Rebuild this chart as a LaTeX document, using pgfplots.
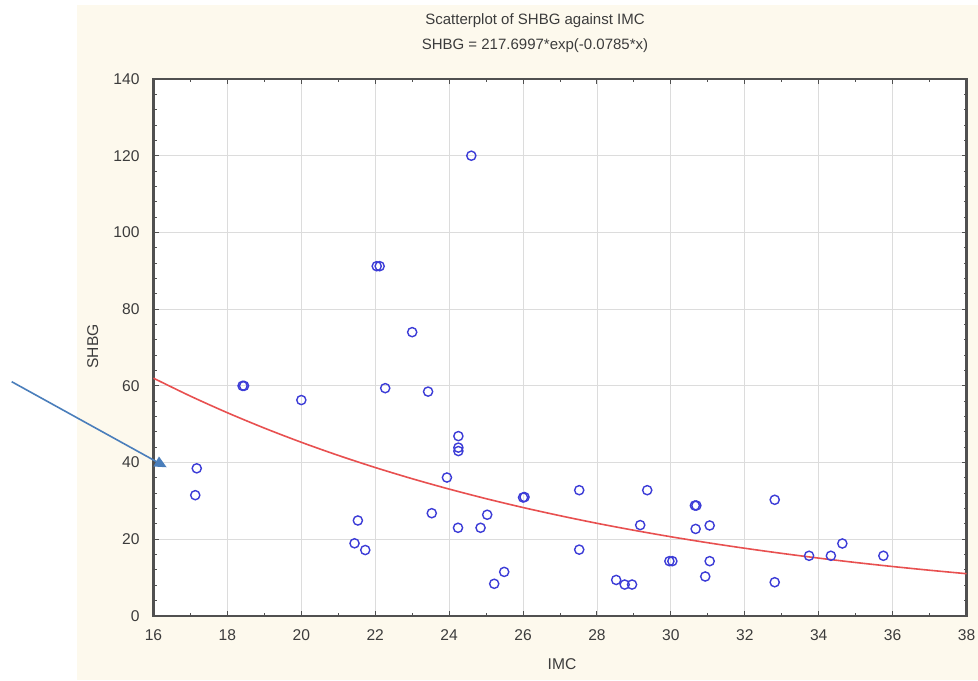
\documentclass[border=0pt]{standalone}
\usepackage{pgfplots}
\pgfplotsset{compat=1.18}
\usepackage{fontspec}
\setmainfont{Liberation Sans}
\usetikzlibrary{arrows.meta}
\definecolor{panel}{RGB}{253,249,237}
\definecolor{ptblue}{RGB}{60,60,215}
\definecolor{fitred}{RGB}{232,80,80}
\definecolor{arrowblue}{RGB}{74,126,187}
\definecolor{gridgray}{RGB}{220,220,220}
\definecolor{axgray}{RGB}{80,80,80}
\definecolor{txtgray}{RGB}{60,60,60}
\begin{document}
\begin{tikzpicture}
\fill[white] (0,0) rectangle (489pt,340pt);
\useasboundingbox (0,0) rectangle (489pt,340pt);
\fill[panel] (38.5pt,0) rectangle (489pt,337.5pt);
\begin{axis}[
  scale only axis,
  width=406.5pt, height=268.5pt,
  at={(76.75pt,32pt)}, anchor=south west,
  xmin=16, xmax=38, ymin=0, ymax=140,
  xtick={16,18,...,38}, ytick={0,20,...,140},
  minor x tick num=1, minor y tick num=4,
  tick align=inside,
  major tick length=2.5pt, minor tick length=1.5pt,
  tick style={axgray, line width=0.5pt},
  axis line style={axgray, line width=1.1pt},
  grid=major,
  major grid style={gridgray, line width=0.4pt},
  axis background/.style={fill=white},
  /pgf/number format/assume math mode=true,
  ticklabel style={font=\fontsize{7.8}{9}\selectfont, text=txtgray},
  xticklabel style={yshift=-3.5pt},
  yticklabel style={xshift=-3.5pt},
  clip=false,
]
\addplot[fitred, line width=0.8pt, smooth] coordinates {
(16,62.00) (17,57.32) (18,52.99) (19,48.99) (20,45.29) (21,41.87)
(22,38.71) (23,35.79) (24,33.09) (25,30.59) (26,28.28) (27,26.15)
(28,24.17) (29,22.35) (30,20.66) (31,19.10) (32,17.66) (33,16.33)
(34,15.09) (35,13.95) (36,12.90) (37,11.93) (38,11.03)
};
\addplot[only marks, mark=o, mark size=2.3pt, ptblue, mark options={line width=0.7pt}] coordinates {
(24.6,120) (22.04,91.2) (22.12,91.2) (23.0,74)
(18.41,60) (18.45,60) (20.0,56.3) (22.27,59.4) (23.43,58.5)
(24.25,46.9) (24.25,43.9) (24.25,43.0) (23.94,36.1)
(17.17,38.5) (17.13,31.5) (21.53,24.9) (21.44,18.95) (21.73,17.2)
(23.53,26.8) (24.24,23.0) (24.85,23.0) (25.03,26.4) (25.22,8.4) (25.49,11.5)
(26.0,30.9) (26.04,31.0) (27.52,32.8) (27.52,17.3) (29.36,32.8) (29.17,23.7)
(28.52,9.4) (28.75,8.2) (28.95,8.2) (29.96,14.3) (30.04,14.3)
(30.65,28.8) (30.69,28.8) (30.67,22.7) (31.05,23.6) (31.05,14.3) (30.93,10.3)
(32.81,30.3) (32.81,8.8) (33.74,15.7) (34.33,15.7) (34.64,18.9) (35.75,15.7)
};
\end{axis}
\node[font=\fontsize{7.5}{9}\selectfont, text=txtgray] at (267.5pt,329.5pt) {Scatterplot of SHBG against IMC};
\node[font=\fontsize{7.5}{9}\selectfont, text=txtgray] at (267.5pt,317pt) {SHBG = 217.6997*exp(-0.0785*x)};
\node[font=\fontsize{7.8}{9}\selectfont, text=txtgray, rotate=90] at (46.35pt,166.75pt) {SHBG};
\node[font=\fontsize{7.8}{9}\selectfont, text=txtgray] at (281pt,8pt) {IMC};
\draw[arrowblue, line width=0.8pt, -{Triangle[length=6pt,width=5.5pt]}] (5.85pt,149.15pt) -- (83.35pt,106.35pt);
\end{tikzpicture}
\end{document}
